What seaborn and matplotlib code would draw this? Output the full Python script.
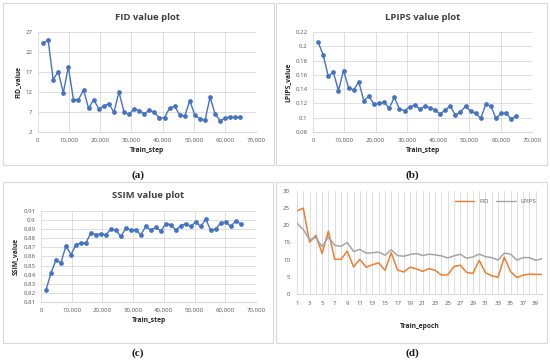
import numpy as np
import pandas as pd
import matplotlib
matplotlib.use("Agg")
import matplotlib.pyplot as plt
import seaborn as sns
from matplotlib.patches import Rectangle
from matplotlib.ticker import FuncFormatter

# ---- data ----
epochs = list(range(1, 41))
steps = [1625 * e for e in epochs]
fid = [24.2, 25.0, 15.1, 17.1, 11.8, 18.3, 10.1, 10.1, 12.5, 7.9,
       10.1, 7.8, 8.5, 9.1, 6.9, 12.0, 7.0, 6.4, 7.8, 7.3,
       6.6, 7.4, 6.9, 5.5, 5.6, 8.0, 8.4, 6.3, 6.0, 9.8,
       6.2, 5.3, 4.9, 10.7, 6.5, 4.8, 5.5, 5.8, 5.7, 5.7]
lpips = [0.206, 0.188, 0.158, 0.164, 0.138, 0.166, 0.142, 0.139, 0.150, 0.124,
         0.130, 0.119, 0.120, 0.122, 0.113, 0.129, 0.112, 0.110, 0.115, 0.118,
         0.112, 0.116, 0.114, 0.111, 0.105, 0.111, 0.116, 0.104, 0.108, 0.116,
         0.109, 0.106, 0.099, 0.119, 0.116, 0.099, 0.106, 0.106, 0.098, 0.103]
ssim = [0.823, 0.842, 0.856, 0.853, 0.872, 0.862, 0.873, 0.875, 0.875, 0.886,
        0.884, 0.885, 0.884, 0.890, 0.889, 0.882, 0.891, 0.889, 0.889, 0.884,
        0.893, 0.889, 0.892, 0.888, 0.896, 0.895, 0.889, 0.894, 0.896, 0.893,
        0.898, 0.893, 0.901, 0.889, 0.890, 0.897, 0.898, 0.893, 0.899, 0.896]
lpips_x100 = [v * 100 for v in lpips]
x_ticks = [0, 10000, 20000, 30000, 40000, 50000, 60000, 70000]
fid_ticks = [2, 7, 12, 17, 22, 27]
lpips_ticks = [0.08, 0.1, 0.12, 0.14, 0.16, 0.18, 0.2, 0.22]
lpips_ticklabels = ["0.08", "0.1", "0.12", "0.14", "0.16", "0.18", "0.2", "0.22"]
ssim_ticks = [0.81, 0.82, 0.83, 0.84, 0.85, 0.86, 0.87, 0.88, 0.89, 0.9, 0.91]
ssim_ticklabels = ["0.81", "0.82", "0.83", "0.84", "0.85", "0.86", "0.87", "0.88", "0.89", "0.9", "0.91"]
d_ticks = [0, 5, 10, 15, 20, 25, 30]

sns.set_style("white")
plt.rcParams['font.family'] = ['Open Sans', 'DejaVu Sans']

W, H = 550, 363
fig = plt.figure(figsize=(5.5, 3.63), dpi=100)

def rect(x0, y0, x1, y1):
    return [x0 / W, 1 - y1 / H, (x1 - x0) / W, (y1 - y0) / H]

# panel borders
for (x0, y0, x1, y1) in [(3, 3, 274, 165), (276, 3, 547, 165), (3, 182, 273, 343), (276, 182, 547, 343)]:
    fig.patches.append(Rectangle((x0 / W, 1 - y1 / H), (x1 - x0) / W, (y1 - y0) / H,
                                 transform=fig.transFigure, fill=False, ec="#D9D9D9", lw=0.8))

BLUE = "#4472C4"
GRID = "#D9D9D9"
TXT = "#595959"
comma = FuncFormatter(lambda v, p: f"{int(v):,}")

def style(ax, title, ylabel, xlabel):
    for s in ax.spines.values():
        s.set_visible(False)
    ax.spines['bottom'].set_visible(True)
    ax.spines['bottom'].set_color(GRID)
    ax.spines['bottom'].set_linewidth(0.8)
    ax.grid(True, color=GRID, lw=0.6)
    ax.set_axisbelow(True)
    ax.tick_params(length=0, labelsize=4.4, colors=TXT, pad=4)
    ax.set_title(title, fontsize=6.8, fontweight="bold", color="#404040", pad=9)
    ax.set_ylabel(ylabel, fontsize=4.9, fontweight="bold", color="#262626", labelpad=3)
    ax.set_xlabel(xlabel, fontsize=4.9, fontweight="bold", color="#262626", labelpad=3)

def step_panel(r, values, yticks, ylabels, title, ylabel):
    ax = fig.add_axes(rect(*r))
    df = pd.DataFrame({"step": steps, "v": values})
    sns.lineplot(data=df, x="step", y="v", ax=ax, color=BLUE, lw=1.0, marker="o",
                 markersize=3.4, markeredgewidth=0, markeredgecolor=BLUE)
    ax.set_xlim(0, 70000)
    ax.set_xticks(x_ticks)
    ax.xaxis.set_major_formatter(comma)
    ax.set_ylim(yticks[0], yticks[-1])
    ax.set_yticks(yticks)
    if ylabels is not None:
        ax.set_yticklabels(ylabels)
    style(ax, title, ylabel, "Train_step")
    return ax

step_panel((38, 32, 256, 132), fid, fid_ticks, None, "FID value plot", "FID_value")
step_panel((313, 32, 532, 132), lpips, lpips_ticks, lpips_ticklabels, "LPIPS value plot", "LPIPS_value")
step_panel((41, 211, 256, 302), ssim, ssim_ticks, ssim_ticklabels, "SSIM value plot", "SSIM_value")

# panel (d)
axd = fig.add_axes(rect(297, 191, 542, 294))
dd = pd.DataFrame({"epoch": epochs * 2, "v": fid + lpips_x100,
                   "series": ["FID"] * 40 + ["LPIPS"] * 40})
sns.lineplot(data=dd, x="epoch", y="v", hue="series", ax=axd,
             palette={"FID": "#ED7D31", "LPIPS": "#A5A5A5"}, lw=1.1)
axd.set_xlim(1, 40)
axd.set_xticks(epochs)
axd.set_xticklabels([str(e) if e % 2 == 1 else "" for e in epochs])
axd.set_ylim(0, 30)
axd.set_yticks(d_ticks)
for s in axd.spines.values():
    s.set_visible(False)
axd.spines['bottom'].set_visible(True)
axd.spines['bottom'].set_color(GRID)
axd.grid(True, axis="x", color=GRID, lw=0.6)
axd.set_axisbelow(True)
axd.tick_params(length=0, labelsize=4.4, colors=TXT, pad=5)
axd.set_ylabel("")
axd.set_xlabel("Train_epoch", fontsize=4.9, fontweight="bold", color="#262626", labelpad=12)
leg = axd.legend(loc="upper right", frameon=False, fontsize=4.4, ncol=2, handlelength=3.2,
                 columnspacing=1.2, bbox_to_anchor=(1.0, 0.98), labelcolor=TXT)
for h in leg.get_lines():
    h.set_linewidth(1.0)

# captions
for (cx, cy, t) in [(138, 175, "(a)"), (412, 175, "(b)"), (138, 353, "(c)"), (412, 353, "(d)")]:
    fig.text(cx / W, 1 - cy / H, t, ha="center", va="center", fontsize=8, fontweight="bold",
             family=["Liberation Serif", "DejaVu Serif"], color="#1a1a1a")

fig.savefig("out.png", dpi=100)
